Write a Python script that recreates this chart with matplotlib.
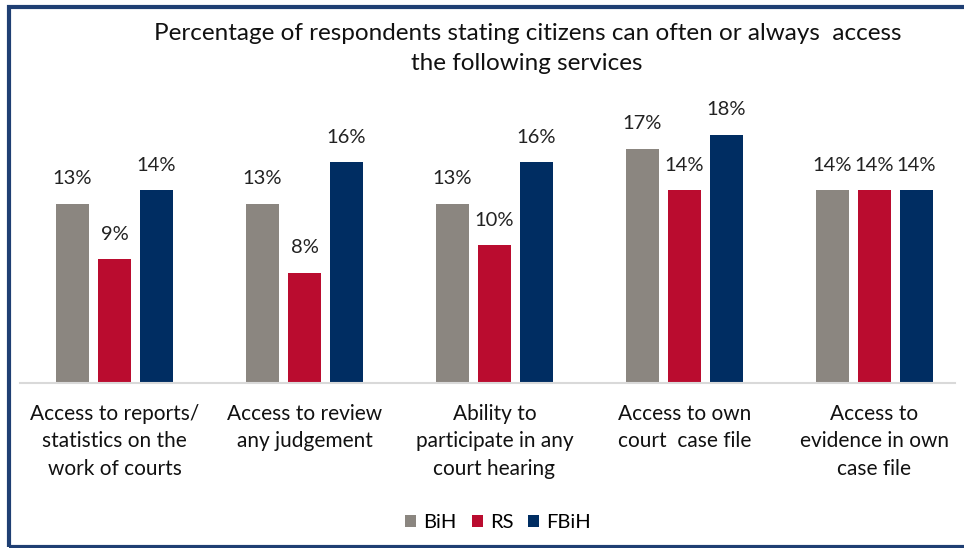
import matplotlib
matplotlib.use("Agg")
import matplotlib.pyplot as plt
from matplotlib.patches import Rectangle
import numpy as np

categories = [
    "Access to reports/\nstatistics on the\nwork of courts",
    "Access to review\nany judgement",
    "Ability to\nparticipate in any\ncourt hearing",
    "Access to own\ncourt  case file",
    "Access to\nevidence in own\ncase file",
]
series_names = ["BiH", "RS", "FBiH"]
bih = [13, 13, 13, 17, 14]
rs = [9, 8, 10, 14, 14]
fbih = [14, 16, 16, 18, 14]
colors = ["#8B8680", "#BA0C2F", "#002D62"]

plt.rcParams["font.family"] = ["Lato", "DejaVu Sans"]

W, H = 964, 548
fig = plt.figure(figsize=(W / 100, H / 100), dpi=100)

# axes placed in pixel terms
ax_l, ax_r, ax_b = 20, 955, 383
px_per_unit_x = 190.0
first_center = 114.5
x0 = -(first_center - ax_l) / px_per_unit_x
x1 = 4 + (ax_r - (first_center + 4 * px_per_unit_x)) / px_per_unit_x
ymax = 20
px_per_pct = 13.79
ax_t = ax_b - ymax * px_per_pct
ax = fig.add_axes([ax_l / W, (H - ax_b) / H, (ax_r - ax_l) / W, (ax_b - ax_t) / H])
ax.set_xlim(x0, x1)
ax.set_ylim(0, ymax)

x = np.arange(len(categories))
offset = 42 / px_per_unit_x
width = 33 / px_per_unit_x
for i, (vals, c, name) in enumerate(zip([bih, rs, fbih], colors, series_names)):
    pos = x + (i - 1) * offset
    ax.bar(pos, vals, width=width, color=c, label=name)
    for p, v in zip(pos, vals):
        ax.text(p, v + 1.4, f"{v}%", ha="center", va="baseline", fontsize=14.5,
                color="#222222")

for s in ["top", "right", "left"]:
    ax.spines[s].set_visible(False)
ax.spines["bottom"].set_color("#D9D9D9")
ax.spines["bottom"].set_linewidth(1.5)
ax.set_yticks([])
ax.set_xticks(x)
ax.set_xticklabels(categories, fontsize=15, color="#111111", linespacing=1.47)
ax.tick_params(axis="x", length=0, pad=15)

fig.text(528 / W, 1 - 40 / H, "Percentage of respondents stating citizens can often or always  access",
         ha="center", va="baseline", fontsize=17.5, color="#111111")
fig.text(527 / W, 1 - 70 / H, "the following services",
         ha="center", va="baseline", fontsize=17.5, color="#111111")

leg = fig.legend(loc="center", bbox_to_anchor=(498 / W, 1 - 523 / H), ncol=3, frameon=False,
                 fontsize=14.5, handlelength=0.55, handleheight=0.55, handletextpad=0.35,
                 columnspacing=0.75)

# outer frame
fig.patches.append(Rectangle((8.5 / W, 1.5 / H), 1.2, 1 - 8 / H, transform=fig.transFigure,
                             fill=False, edgecolor="#1F3F73", linewidth=3))

fig.savefig("out.png", dpi=100)
